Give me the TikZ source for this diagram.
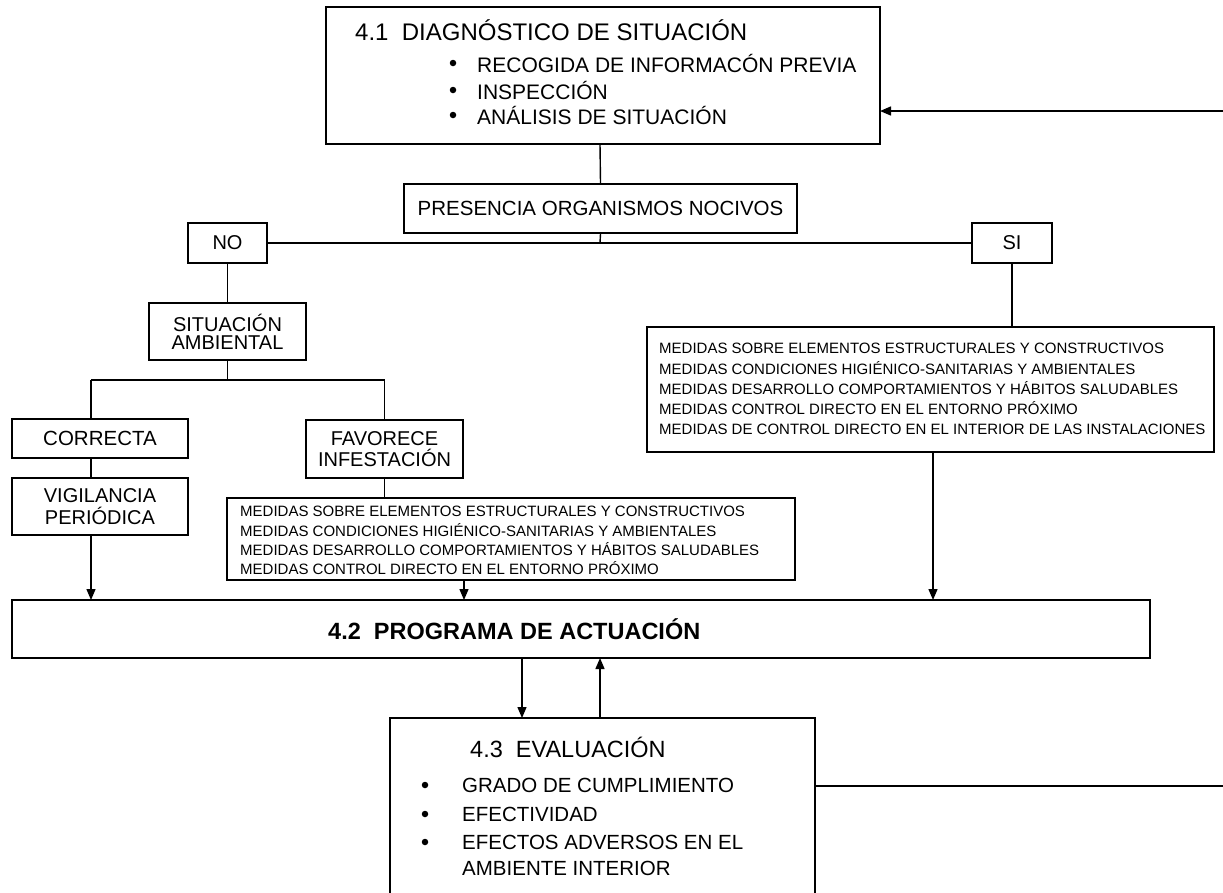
\documentclass[tikz,border=0pt]{standalone}
\usepackage{fontspec}
\setmainfont{Liberation Sans}
\usetikzlibrary{arrows.meta}
\newcommand{\fs}[1]{\fontsize{#1}{#1}\selectfont}
\tikzset{
  box/.style={draw, line width=1.4pt},
  conn/.style={line width=1.4pt},
  arr/.style={line width=1.4pt, -{Triangle[length=11pt,width=9pt]}},
  txt/.style={inner sep=0pt, anchor=west},
  bul/.style={circle, fill, inner sep=0pt, minimum size=6.5pt},
}
\begin{document}
\begin{tikzpicture}[x=1pt,y=-1pt]
\useasboundingbox (0,0) rectangle (1223,892);
\clip (0,0) rectangle (1223,892);
% ---------- 4.1 box
\draw[box] (326,7) rectangle (880,144);
\coordinate (b41s) at (600,144);
\coordinate (b41e) at (880,111);
\node[txt] (t41) at (355,30) {\fs{24}4.1\ \ DIAGNÓSTICO DE SITUACIÓN};
\node[bul] (u1) at (453,63) {};
\node[bul] (u2) at (453,90) {};
\node[bul] (u3) at (453,115) {};
\node[txt] (l1) at (477,63) {\fs{21}RECOGIDA DE INFORMACÓN PREVIA};
\node[txt] (l2) at (477,90) {\fs{21}INSPECCIÓN};
\node[txt] (l3) at (477,115) {\fs{21}ANÁLISIS DE SITUACIÓN};
\coordinate (rin) at (1223,111);
\draw[arr] (rin) -- (b41e);
% ---------- presencia
\node[box, minimum width=393pt, minimum height=49pt, inner sep=0pt] (pres) at (600.5,208.5) {\fs{20.5}PRESENCIA ORGANISMOS NOCIVOS};
\draw[conn] (b41s) -- (pres.north);
\coordinate (hj) at (600,243);
\draw[conn] (pres.south) -- (hj);
% ---------- NO / SI
\node[box, minimum width=79pt, minimum height=40pt, inner sep=0pt] (no) at (227.5,243) {\fs{20}NO};
\node[box, minimum width=80pt, minimum height=40pt, inner sep=0pt] (si) at (1012,243) {\fs{20}SI};
\draw[conn] (no.east) -- (si.west);
% ---------- left branch
\node[box, minimum width=157pt, minimum height=57pt, inner sep=0pt, align=center] (sit) at (227.5,331.5) {\fs{20}SITUACIÓN\\[3pt]\fs{20}AMBIENTAL};
\draw[conn] (no.south) -- (sit.north);
\node[box, minimum width=176pt, minimum height=39pt, inner sep=0pt] (corr) at (100,438.5) {\fs{20.5}CORRECTA};
\node[box, minimum width=176pt, minimum height=57pt, inner sep=0pt, align=center] (vig) at (100,506.5) {\fs{20}VIGILANCIA\\[3pt]\fs{20}PERIÓDICA};
\node[box, minimum width=157pt, minimum height=58pt, inner sep=0pt, align=center] (fav) at (384.5,449) {\fs{20}FAVORECE\\[3pt]\fs{20}INFESTACIÓN};
\coordinate (sj) at (227.5,380);
\coordinate (hl) at (91,380);
\coordinate (hr) at (384.5,380);
\draw[conn] (sit.south) -- (sj);
\draw[conn] (hl) -- (hr);
\draw[conn] (hl) -- (hl |- corr.north);
\draw[conn] (hr) -- (fav.north);
\draw[conn] (hl |- corr.south) -- (hl |- vig.north);
% ---------- medidas 2
\draw[box] (227,498) rectangle (795,580);
\coordinate (m2n) at (384.5,498);
\coordinate (m2s) at (464,580);
\node[txt] (m21) at (240,511) {\fs{15}MEDIDAS SOBRE ELEMENTOS ESTRUCTURALES Y CONSTRUCTIVOS};
\node[txt] (m22) at (240,530) {\fs{15}MEDIDAS CONDICIONES HIGIÉNICO-SANITARIAS Y AMBIENTALES};
\node[txt] (m23) at (240,549) {\fs{15}MEDIDAS DESARROLLO COMPORTAMIENTOS Y HÁBITOS SALUDABLES};
\node[txt] (m24) at (240,568) {\fs{15}MEDIDAS CONTROL DIRECTO EN EL ENTORNO PRÓXIMO};
\draw[conn] (fav.south) -- (m2n);
% ---------- medidas 1
\draw[box] (647,327) rectangle (1214,452);
\coordinate (m1n) at (1012,327);
\coordinate (m1s) at (933,452);
\node[txt] (m11) at (659,348) {\fs{15}MEDIDAS SOBRE ELEMENTOS ESTRUCTURALES Y CONSTRUCTIVOS};
\node[txt] (m12) at (659,368) {\fs{15}MEDIDAS CONDICIONES HIGIÉNICO-SANITARIAS Y AMBIENTALES};
\node[txt] (m13) at (659,388.5) {\fs{15}MEDIDAS DESARROLLO COMPORTAMIENTOS Y HÁBITOS SALUDABLES};
\node[txt] (m14) at (659,408.5) {\fs{15}MEDIDAS CONTROL DIRECTO EN EL ENTORNO PRÓXIMO};
\node[txt] (m15) at (659,429) {\fs{15}MEDIDAS DE CONTROL DIRECTO EN EL INTERIOR DE LAS INSTALACIONES};
\draw[conn] (si.south) -- (m1n);
% ---------- 4.2
\draw[box] (12,600) rectangle (1150,658);
\coordinate (p42a) at (91,600);
\coordinate (p42b) at (464,600);
\coordinate (p42c) at (933,600);
\coordinate (p42d) at (522,658);
\coordinate (p42e) at (600,658);
\node[txt] (t42) at (328,629) {\fs{23.5}\bfseries 4.2\ \ PROGRAMA DE ACTUACIÓN};
\draw[arr] (hl |- vig.south) -- (p42a);
\draw[arr] (m2s) -- (p42b);
\draw[arr] (m1s) -- (p42c);
% ---------- 4.3
\draw[box] (390,900) -- (390,718) -- (815,718) -- (815,900);
\coordinate (e43n1) at (522,718);
\coordinate (e43n2) at (600,718);
\coordinate (e43e) at (815,786);
\node[txt] (t43) at (470,747) {\fs{23.5}4.3\ \ EVALUACIÓN};
\node[bul] (v1) at (425,785) {};
\node[bul] (v2) at (425,814) {};
\node[bul] (v3) at (425,842) {};
\node[txt] (k1) at (462,785) {\fs{20.5}GRADO DE CUMPLIMIENTO};
\node[txt] (k2) at (462,814) {\fs{20.5}EFECTIVIDAD};
\node[txt] (k3) at (462,842) {\fs{20.5}EFECTOS ADVERSOS EN EL};
\node[txt] (k4) at (462,868) {\fs{20.5}AMBIENTE INTERIOR};
\draw[arr] (p42d) -- (e43n1);
\draw[arr] (e43n2) -- (p42e);
\coordinate (rout) at (1223,786);
\draw[conn] (e43e) -- (rout);
\end{tikzpicture}
\end{document}
